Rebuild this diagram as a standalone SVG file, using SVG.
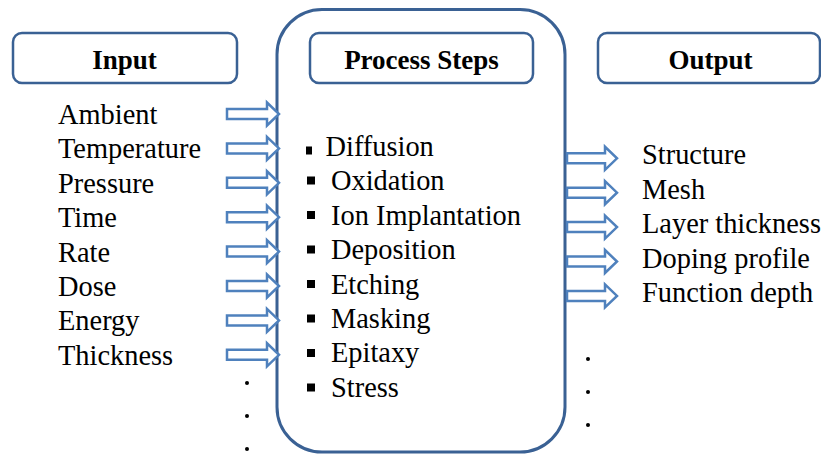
<svg xmlns="http://www.w3.org/2000/svg" width="821" height="455" viewBox="0 0 821 455">
<style>
.hdr{fill:#fff;stroke:#3A6194;stroke-width:2.5}
.big{fill:#fff;stroke:#3A6194;stroke-width:3}
.ht{font-family:"Liberation Serif",serif;font-weight:bold;font-size:27px;fill:#000;text-anchor:middle}
.t{font-family:"Liberation Serif",serif;font-size:28.4px;fill:#000}
.arr{fill:#fff;stroke:#4F81BD;stroke-width:2.5;stroke-linejoin:miter}
.dot{fill:#000}
</style>
<defs>
<path id="ba" d="M0,-5 H40 V-11.5 L52,0 L40,11.5 V5 H0 Z"/>
<path id="bo" d="M0,-5 H38 V-11.5 L50,0 L38,11.5 V5 H0 Z"/>
</defs>
<g id="process">
<rect class="big" x="277" y="9.5" width="288" height="442.5" rx="45" ry="45"/>
<g id="process-header">
<rect class="hdr" x="310" y="33" width="223" height="50" rx="9"/>
<text class="ht" x="421.5" y="69">Process Steps</text>
</g>
<rect x="306" y="146.5" width="6" height="8" class="dot"/>
<text class="t" x="325.5" y="156">Diffusion</text>
<rect x="307" y="176.5" width="8" height="8" class="dot"/><text class="t" x="331" y="190.4">Oxidation</text>
<rect x="307" y="211" width="8" height="8" class="dot"/><text class="t" x="331" y="224.8">Ion Implantation</text>
<rect x="307" y="245.5" width="8" height="8" class="dot"/><text class="t" x="331" y="259.2">Deposition</text>
<rect x="307" y="280" width="8" height="8" class="dot"/><text class="t" x="331" y="293.6">Etching</text>
<rect x="307" y="314.5" width="8" height="8" class="dot"/><text class="t" x="331" y="328">Masking</text>
<rect x="307" y="349" width="8" height="8" class="dot"/><text class="t" x="331" y="362.4">Epitaxy</text>
<rect x="307" y="383.5" width="8" height="8" class="dot"/><text class="t" x="331" y="396.8">Stress</text>
</g>
<g id="input">
<rect class="hdr" x="13" y="33" width="224" height="50" rx="9"/>
<text class="ht" x="124.5" y="69">Input</text>
<text class="t" x="58" y="124">Ambient</text>
<text class="t" x="58" y="158.4">Temperature</text>
<text class="t" x="58" y="192.8">Pressure</text>
<text class="t" x="58" y="227.2">Time</text>
<text class="t" x="58" y="261.6">Rate</text>
<text class="t" x="58" y="296">Dose</text>
<text class="t" x="58" y="330.4">Energy</text>
<text class="t" x="58" y="364.8">Thickness</text>
<circle class="dot" cx="247" cy="383" r="2"/>
<circle class="dot" cx="247" cy="416" r="2"/>
<circle class="dot" cx="247" cy="449" r="2"/>
</g>
<g id="output">
<rect class="hdr" x="598" y="33" width="222" height="50" rx="9"/>
<text class="ht" x="710.5" y="69">Output</text>
<text class="t" x="642" y="164.3">Structure</text>
<text class="t" x="642" y="198.7">Mesh</text>
<text class="t" x="642" y="233.1">Layer thickness</text>
<text class="t" x="642" y="267.5">Doping profile</text>
<text class="t" x="642" y="301.9">Function depth</text>
<circle class="dot" cx="588" cy="359" r="2"/>
<circle class="dot" cx="588" cy="392" r="2"/>
<circle class="dot" cx="588" cy="425" r="2"/>
</g>
<g id="connectors">
<use href="#ba" class="arr" x="227" y="114"/>
<use href="#ba" class="arr" x="227" y="148.4"/>
<use href="#ba" class="arr" x="227" y="182.8"/>
<use href="#ba" class="arr" x="227" y="217.2"/>
<use href="#ba" class="arr" x="227" y="251.6"/>
<use href="#ba" class="arr" x="227" y="286"/>
<use href="#ba" class="arr" x="227" y="320.4"/>
<use href="#ba" class="arr" x="227" y="354.8"/>
<use href="#bo" class="arr" x="567" y="158.3"/>
<use href="#bo" class="arr" x="567" y="192.7"/>
<use href="#bo" class="arr" x="567" y="227.1"/>
<use href="#bo" class="arr" x="567" y="261.5"/>
<use href="#bo" class="arr" x="567" y="295.9"/>
</g>
</svg>
